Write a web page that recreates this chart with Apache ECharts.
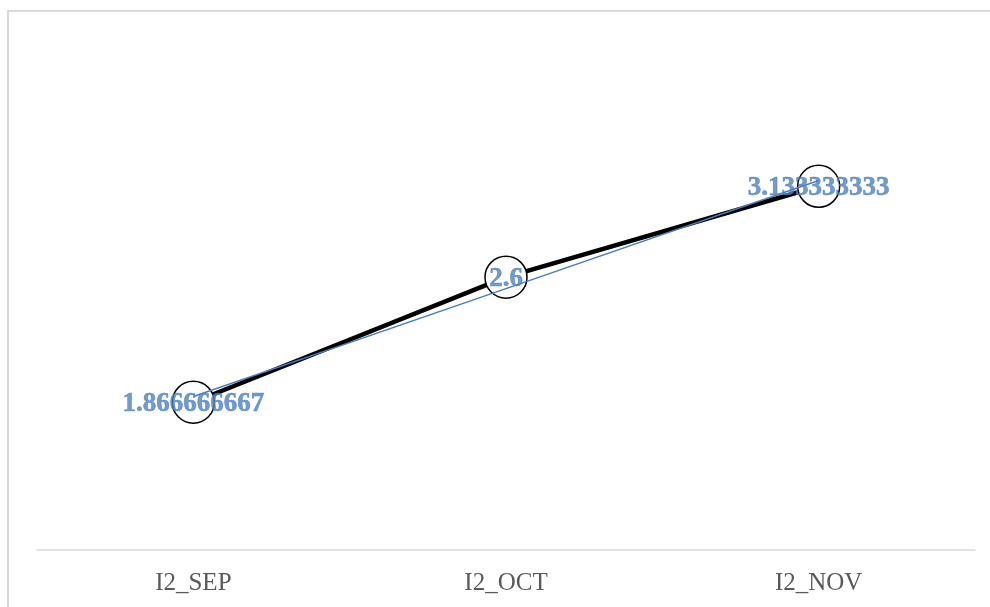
<!DOCTYPE html>
<html>
<head>
<meta charset="utf-8">
<script src="https://cdn.jsdelivr.net/npm/echarts@6/dist/echarts.min.js"></script>
<style>
html,body{margin:0;padding:0;background:#fff;}
#c{width:990px;height:607px;}
</style>
</head>
<body>
<div id="c"></div>
<script>
var categories = ['I2_SEP', 'I2_OCT', 'I2_NOV'];
var values = [1.866666667, 2.6, 3.133333333];
var trendValues = [1.9, 2.533, 3.167];

var chart = echarts.init(document.getElementById('c'));
chart.setOption({
  backgroundColor: '#ffffff',
  animation: false,
  graphic: [{
    type: 'rect',
    shape: {x: 8, y: 11, width: 1000, height: 700},
    style: {fill: 'none', stroke: '#d9d9d9', lineWidth: 2},
    silent: true,
    z: -10
  }],
  grid: {left: 37, right: 15, top: 38.5, bottom: 57},
  xAxis: {
    type: 'category',
    data: categories,
    boundaryGap: true,
    axisLine: {lineStyle: {color: '#d9d9d9', width: 1.5}},
    axisTick: {show: false},
    axisLabel: {
      color: '#595959',
      fontFamily: 'Liberation Serif',
      fontSize: 25,
      margin: 21
    }
  },
  yAxis: {
    type: 'value',
    min: 1,
    max: 4,
    show: false,
    splitLine: {show: false}
  },
  series: [
    {
      type: 'line',
      data: values,
      z: 2,
      symbol: 'circle',
      symbolSize: 42,
      itemStyle: {color: '#ffffff', borderColor: '#000000', borderWidth: 1.5},
      lineStyle: {color: '#000000', width: 4.5},
      label: {show: false}
    },
    {
      type: 'line',
      data: trendValues,
      z: 3,
      symbol: 'none',
      lineStyle: {color: '#4a7ebb', width: 1.5}
    },
    {
      type: 'scatter',
      data: values,
      z: 4,
      symbolSize: 1,
      itemStyle: {color: 'transparent'},
      label: {
        show: true,
        position: 'inside',
        offset: [0, 2],
        color: '#4f81bd',
        textBorderColor: '#4f81bd',
        textBorderWidth: 0.6,
        fontFamily: 'Liberation Serif',
        fontWeight: 'bold',
        fontSize: 27,
        formatter: function (p) { return String(p.value); }
      }
    }
  ]
});
</script>
</body>
</html>
